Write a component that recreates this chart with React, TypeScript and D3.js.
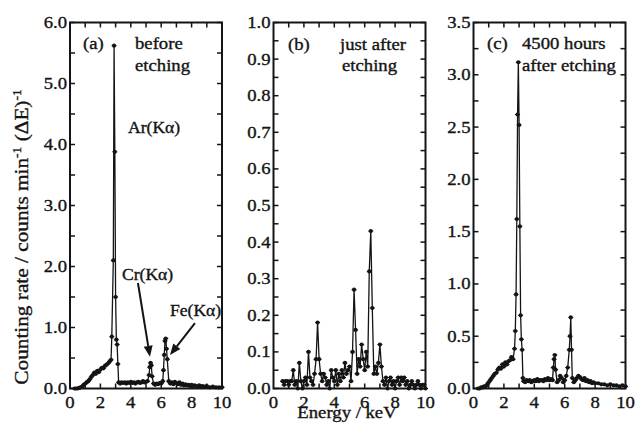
import React from 'react';
import * as d3 from 'd3';

// ---------- data ----------
const spectrumA: [number, number][] = [
  [0.3, 0], [0.4, 0], [0.5, 0], [0.6, 0.01], [0.7, 0.02], [0.8, 0.03], [0.9, 0.06], [1.0, 0.08],
  [1.1, 0.1], [1.2, 0.12], [1.3, 0.15], [1.4, 0.19], [1.5, 0.22], [1.6, 0.26], [1.7, 0.24], [1.8, 0.29],
  [1.9, 0.27], [2.0, 0.31], [2.1, 0.34], [2.2, 0.33], [2.3, 0.37], [2.4, 0.39], [2.5, 0.41], [2.6, 0.44],
  [2.7, 0.47], [2.75, 0.85], [2.85, 2.1], [2.9, 5.62], [2.95, 3.88], [3.0, 1.5], [3.05, 0.8], [3.1, 0.72],
  [3.15, 0.4], [3.2, 0.1], [3.3, 0.08], [3.4, 0.1], [3.5, 0.09], [3.6, 0.1], [3.7, 0.08], [3.8, 0.1],
  [3.9, 0.09], [4.0, 0.11], [4.1, 0.09], [4.2, 0.1], [4.3, 0.08], [4.4, 0.1], [4.5, 0.11], [4.6, 0.09],
  [4.7, 0.1], [4.8, 0.12], [4.9, 0.1], [5.0, 0.11], [5.1, 0.12], [5.2, 0.22], [5.25, 0.35], [5.3, 0.42],
  [5.35, 0.38], [5.4, 0.2], [5.5, 0.08], [5.6, 0.06], [5.7, 0.08], [5.8, 0.07], [5.9, 0.09], [6.0, 0.08],
  [6.1, 0.12], [6.15, 0.3], [6.2, 0.55], [6.25, 0.78], [6.3, 0.82], [6.35, 0.65], [6.4, 0.48], [6.5, 0.12],
  [6.6, 0.08], [6.7, 0.1], [6.8, 0.07], [6.9, 0.11], [7.0, 0.09], [7.1, 0.07], [7.2, 0.1], [7.3, 0.06],
  [7.4, 0.08], [7.5, 0.05], [7.6, 0.07], [7.7, 0.05], [7.8, 0.06], [7.9, 0.04], [8.0, 0.06], [8.1, 0.04],
  [8.2, 0.05], [8.3, 0.04], [8.4, 0.03], [8.5, 0.05], [8.6, 0.03], [8.7, 0.04], [8.8, 0.03], [8.9, 0.03],
  [9.0, 0.04], [9.2, 0.02], [9.4, 0.03], [9.6, 0.02], [9.8, 0.02], [10.0, 0.02],
];

const spectrumB: [number, number][] = [
  [0.6, 0.02], [0.7, 0.01], [0.8, 0.02], [0.9, 0.02], [1.0, 0.01], [1.1, 0.02], [1.2, 0.02], [1.3, 0.05],
  [1.4, 0.01], [1.5, 0.02], [1.6, 0.0], [1.7, 0.07], [1.8, 0.02], [1.9, 0.0], [2.0, 0.02], [2.1, 0.03],
  [2.2, 0.01], [2.3, 0.1], [2.4, 0.03], [2.5, 0.02], [2.6, 0.01], [2.7, 0.04], [2.8, 0.08], [2.9, 0.18],
  [3.0, 0.08], [3.1, 0.04], [3.2, 0.02], [3.3, 0.04], [3.4, 0.03], [3.5, 0.01], [3.6, 0.02], [3.7, 0.0],
  [3.8, 0.05], [3.9, 0.03], [4.0, 0.02], [4.1, 0.05], [4.2, 0.01], [4.3, 0.04], [4.4, 0.02], [4.5, 0.05],
  [4.6, 0.03], [4.7, 0.07], [4.8, 0.04], [4.9, 0.05], [5.0, 0.06], [5.1, 0.02], [5.2, 0.1], [5.3, 0.27],
  [5.4, 0.16], [5.5, 0.04], [5.6, 0.08], [5.7, 0.06], [5.8, 0.12], [5.9, 0.08], [6.0, 0.05], [6.1, 0.1],
  [6.2, 0.06], [6.3, 0.32], [6.4, 0.43], [6.5, 0.22], [6.6, 0.04], [6.7, 0.06], [6.8, 0.04], [6.9, 0.07],
  [7.0, 0.12], [7.1, 0.06], [7.2, 0.02], [7.3, 0.01], [7.4, 0.03], [7.5, 0.0], [7.6, 0.02], [7.7, 0.03],
  [7.8, 0.01], [7.9, 0.02], [8.0, 0.0], [8.1, 0.02], [8.2, 0.03], [8.3, 0.01], [8.4, 0.03], [8.5, 0.02],
  [8.6, 0.03], [8.7, 0.01], [8.8, 0.02], [8.9, 0.0], [9.0, 0.01], [9.1, 0.02], [9.2, 0.01], [9.3, 0.0],
  [9.4, 0.01], [9.5, 0.02], [9.6, 0.01], [9.7, 0.0], [9.8, 0.01], [9.9, 0.01], [10.0, 0.0],
];

const spectrumC: [number, number][] = [
  [0.3, 0], [0.4, 0], [0.5, 0.01], [0.6, 0.01], [0.7, 0.02], [0.8, 0.02], [0.9, 0.04], [1.0, 0.06],
  [1.1, 0.08], [1.2, 0.1], [1.3, 0.12], [1.4, 0.14], [1.5, 0.15], [1.6, 0.18], [1.7, 0.2], [1.8, 0.19],
  [1.9, 0.23], [2.0, 0.21], [2.1, 0.25], [2.2, 0.23], [2.3, 0.26], [2.4, 0.27], [2.5, 0.3], [2.6, 0.28],
  [2.7, 0.38], [2.75, 0.55], [2.8, 0.9], [2.85, 1.62], [2.9, 2.62], [2.95, 3.12], [3.0, 2.52], [3.05, 1.55],
  [3.1, 0.7], [3.15, 0.47], [3.2, 0.37], [3.25, 0.1], [3.3, 0.07], [3.4, 0.06], [3.5, 0.08], [3.6, 0.07],
  [3.7, 0.08], [3.8, 0.06], [3.9, 0.07], [4.0, 0.08], [4.1, 0.07], [4.2, 0.09], [4.3, 0.07], [4.4, 0.08],
  [4.5, 0.08], [4.6, 0.07], [4.7, 0.09], [4.8, 0.08], [4.9, 0.1], [5.0, 0.08], [5.1, 0.09], [5.2, 0.08],
  [5.25, 0.2], [5.3, 0.28], [5.35, 0.32], [5.4, 0.18], [5.5, 0.06], [5.6, 0.08], [5.7, 0.12], [5.8, 0.1],
  [5.9, 0.06], [6.0, 0.08], [6.1, 0.12], [6.2, 0.2], [6.3, 0.37], [6.35, 0.5], [6.4, 0.68], [6.45, 0.37],
  [6.5, 0.1], [6.6, 0.06], [6.7, 0.08], [6.8, 0.1], [6.9, 0.12], [7.0, 0.11], [7.1, 0.09], [7.2, 0.08],
  [7.3, 0.1], [7.4, 0.07], [7.5, 0.08], [7.6, 0.06], [7.7, 0.07], [7.8, 0.05], [7.9, 0.06], [8.0, 0.05],
  [8.2, 0.05], [8.4, 0.04], [8.6, 0.04], [8.8, 0.03], [9.0, 0.04], [9.2, 0.03], [9.4, 0.03], [9.6, 0.02],
  [9.8, 0.03], [10.0, 0.02],
];

const yMaxes = [6.0, 1.0, 3.5];
const yLabelSteps = [1.0, 0.1, 0.5];
const yMinorSteps = [0.5, 0.05, 0.25];
const xTickLabels = [0, 2, 4, 6, 8, 10];
const panelTags = ['(a)', '(b)', '(c)'];
const panelTitles = [['before', 'etching'], ['just after', 'etching'], ['4500 hours', 'after etching']];
const peakLabels = ['Ar(Kα)', 'Cr(Kα)', 'Fe(Kα)'];
const xAxisTitle = 'Energy / keV';

// ---------- layout ----------
const W = 640, H = 435;
const TOP = 22.5, BOTTOM = 388.5, PW = 152;
const LEFTS = [70, 273.5, 473.5];
const FONT = 'Liberation Serif, Times New Roman, Tinos, Times, serif';
const SX = 1.1;
const INK = '#141414';

function T({ x, y, anchor = 'start', size = 17, rotate = 0, sx = SX, children }: any) {
  return (
    <text
      transform={`translate(${x},${y}) rotate(${rotate}) scale(${sx},1)`}
      textAnchor={anchor}
      style={{ fontFamily: FONT, fontSize: size }}
      fill={INK}
      stroke={INK}
      strokeWidth={0.35}
    >
      {children}
    </text>
  );
}

function Panel({ idx, data }: { idx: number; data: [number, number][] }) {
  const left = LEFTS[idx];
  const x = d3.scaleLinear().domain([0, 10]).range([left, left + PW]);
  const y = d3.scaleLinear().domain([0, yMaxes[idx]]).range([BOTTOM, TOP]);
  const line = d3.line<[number, number]>().x((d) => x(d[0])).y((d) => y(d[1]));
  const nMinor = Math.round(yMaxes[idx] / yMinorSteps[idx]);
  const minorTicks = d3.range(0, nMinor + 1).map((i) => i * yMinorSteps[idx]);
  const nLab = Math.round(yMaxes[idx] / yLabelSteps[idx]);
  const labTicks = d3.range(0, nLab + 1).map((i) => i * yLabelSteps[idx]);
  const xMinor = d3.range(1, 10);
  const fmt = d3.format('.1f');
  const tl = 5;
  return (
    <g>
      <path d={line(data) || ''} fill="none" stroke={INK} strokeWidth={1.3} />
      {data.map((d, i) => (
        <g key={i}>
          <line x1={x(d[0]) - 2.5} x2={x(d[0]) + 2.5} y1={y(d[1])} y2={y(d[1])} stroke={INK} strokeWidth={1} />
          <circle cx={x(d[0])} cy={y(d[1])} r={2.1} fill={INK} />
        </g>
      ))}
      {minorTicks.map((v, i) => (
        <g key={'y' + i}>
          <line x1={left} x2={left + tl} y1={y(v)} y2={y(v)} stroke={INK} strokeWidth={1.5} />
          <line x1={left + PW - tl} x2={left + PW} y1={y(v)} y2={y(v)} stroke={INK} strokeWidth={1.5} />
        </g>
      ))}
      {xMinor.map((v, i) => (
        <g key={'x' + i}>
          <line x1={x(v)} x2={x(v)} y1={TOP} y2={TOP + tl} stroke={INK} strokeWidth={1.5} />
          <line x1={x(v)} x2={x(v)} y1={BOTTOM} y2={BOTTOM - tl} stroke={INK} strokeWidth={1.5} />
        </g>
      ))}
      <rect x={left} y={TOP} width={PW} height={BOTTOM - TOP} fill="none" stroke={INK} strokeWidth={2} />
      {labTicks.map((v, i) => (
        <T key={'yl' + i} x={left - 3} y={y(v) + 5.5} anchor="end">{fmt(v)}</T>
      ))}
      {xTickLabels.map((v, i) => (
        <T key={'xl' + i} x={x(v)} y={408} anchor="middle">{v}</T>
      ))}
    </g>
  );
}

function Arrow({ x1, y1, x2, y2 }: any) {
  const ang = Math.atan2(y2 - y1, x2 - x1);
  const len = 11, hw = 4.5;
  const bx = x2 - len * Math.cos(ang), by = y2 - len * Math.sin(ang);
  const px = -Math.sin(ang) * hw, py = Math.cos(ang) * hw;
  return (
    <g>
      <line x1={x1} y1={y1} x2={bx} y2={by} stroke={INK} strokeWidth={2} />
      <polygon points={`${x2},${y2} ${bx + px},${by + py} ${bx - px},${by - py}`} fill={INK} />
    </g>
  );
}

export default function App() {
  const xa = d3.scaleLinear().domain([0, 10]).range([LEFTS[0], LEFTS[0] + PW]);
  const ya = d3.scaleLinear().domain([0, yMaxes[0]]).range([BOTTOM, TOP]);
  return (
    <svg width={W} height={H} style={{ position: 'fixed', left: 0, top: 0, background: '#fff' }}>
      <rect width={W} height={H} fill="#fff" />
      <Panel idx={0} data={spectrumA} />
      <Panel idx={1} data={spectrumB} />
      <Panel idx={2} data={spectrumC} />

      <T x={83} y={49}>{panelTags[0]}</T>
      <T x={135} y={49}>{panelTitles[0][0]}</T>
      <T x={135} y={71}>{panelTitles[0][1]}</T>
      <T x={288} y={50}>{panelTags[1]}</T>
      <T x={340} y={50}>{panelTitles[1][0]}</T>
      <T x={342} y={71}>{panelTitles[1][1]}</T>
      <T x={487} y={49}>{panelTags[2]}</T>
      <T x={522} y={49}>{panelTitles[2][0]}</T>
      <T x={522} y={71}>{panelTitles[2][1]}</T>

      <T x={128} y={133} size={16}>{peakLabels[0]}</T>
      <T x={122} y={280} size={16}>{peakLabels[1]}</T>
      <T x={170} y={316} size={16}>{peakLabels[2]}</T>
      <Arrow x1={xa(4.47)} y1={ya(1.73)} x2={xa(5.26)} y2={ya(0.52)} />
      <Arrow x1={xa(8.22)} y1={ya(1.07)} x2={xa(6.58)} y2={ya(0.55)} />

      <T x={347} y={418} anchor="middle" size={17}>{xAxisTitle}</T>
      <T x={28} y={237} anchor="middle" size={19} rotate={-90} sx={1.12}>
        <tspan>Counting rate / counts min</tspan>
        <tspan dy={-7} fontSize={12}>-1</tspan>
        <tspan dy={7}> (ΔE)</tspan>
        <tspan dy={-7} fontSize={12}>-1</tspan>
      </T>
    </svg>
  );
}
